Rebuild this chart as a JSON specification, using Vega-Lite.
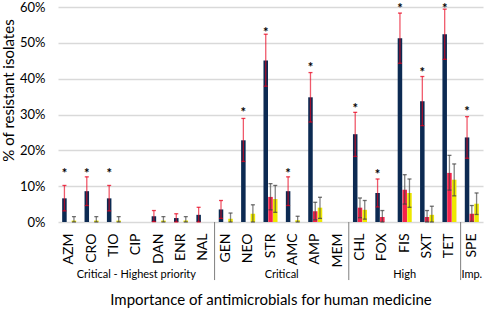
{
  "$schema": "https://vega.github.io/schema/vega-lite/v6.json",
  "width": 425,
  "height": 215,
  "autosize": "none",
  "padding": {"left": 58, "top": 7, "right": 2, "bottom": 88},
  "config": {
    "view": {"stroke": null},
    "font": "Lato",
    "text": {"font": "Lato"},
    "axisY": {
      "labelOverlap": false,
      "labelFontSize": 13,
      "labelColor": "#000000",
      "labelPadding": 13,
      "ticks": false,
      "domain": false,
      "grid": true,
      "gridColor": "#D9D9D9",
      "gridWidth": 1.5,
      "titleFontSize": 15,
      "titleFontWeight": "normal",
      "titleColor": "#000000",
      "titlePadding": 3,
      "titleY": 83
    },
    "axisX": {
      "labelAngle": -90,
      "labelFontSize": 14,
      "labelColor": "#000000",
      "labelPadding": 11,
      "ticks": false,
      "domain": false,
      "titleFontSize": 15,
      "titleFontWeight": "normal",
      "titleColor": "#000000",
      "titlePadding": 25
    }
  },
  "datasets": {
    "bars": [
      {"drug": "AZM", "series": "Series 1", "value": 6.6, "lo": 3.1, "hi": 10.2},
      {"drug": "CRO", "series": "Series 1", "value": 8.6, "lo": 4.6, "hi": 12.6},
      {"drug": "TIO", "series": "Series 1", "value": 6.6, "lo": 3.1, "hi": 10.2},
      {"drug": "DAN", "series": "Series 1", "value": 1.6, "lo": 0.1, "hi": 3.2},
      {"drug": "ENR", "series": "Series 1", "value": 1.1, "lo": 0, "hi": 2.3},
      {"drug": "NAL", "series": "Series 1", "value": 2.0, "lo": 0, "hi": 4.1},
      {"drug": "GEN", "series": "Series 1", "value": 3.5, "lo": 1.0, "hi": 6.0},
      {"drug": "NEO", "series": "Series 1", "value": 22.8, "lo": 16.9, "hi": 28.9},
      {"drug": "STR", "series": "Series 1", "value": 45.1, "lo": 37.9, "hi": 52.4},
      {"drug": "AMC", "series": "Series 1", "value": 8.6, "lo": 4.6, "hi": 12.6},
      {"drug": "AMP", "series": "Series 1", "value": 34.8, "lo": 27.9, "hi": 41.7},
      {"drug": "CHL", "series": "Series 1", "value": 24.5, "lo": 18.3, "hi": 30.6},
      {"drug": "FOX", "series": "Series 1", "value": 8.1, "lo": 4.2, "hi": 12.0},
      {"drug": "FIS", "series": "Series 1", "value": 51.3, "lo": 44.3, "hi": 58.3},
      {"drug": "SXT", "series": "Series 1", "value": 33.7, "lo": 26.9, "hi": 40.6},
      {"drug": "TET", "series": "Series 1", "value": 52.4, "lo": 45.4, "hi": 59.4},
      {"drug": "SPE", "series": "Series 1", "value": 23.6, "lo": 17.8, "hi": 29.4},
      {"drug": "STR", "series": "Series 2", "value": 7.0, "lo": 3.4, "hi": 10.7},
      {"drug": "AMP", "series": "Series 2", "value": 3.0, "lo": 0.6, "hi": 5.5},
      {"drug": "CHL", "series": "Series 2", "value": 4.0, "lo": 1.2, "hi": 6.7},
      {"drug": "FOX", "series": "Series 2", "value": 1.4, "lo": 0, "hi": 3.2},
      {"drug": "FIS", "series": "Series 2", "value": 9.0, "lo": 5.0, "hi": 13.2},
      {"drug": "SXT", "series": "Series 2", "value": 1.4, "lo": 0, "hi": 3.2},
      {"drug": "TET", "series": "Series 2", "value": 13.7, "lo": 8.9, "hi": 18.6},
      {"drug": "SPE", "series": "Series 2", "value": 2.3, "lo": 0.2, "hi": 4.6},
      {"drug": "AZM", "series": "Series 3", "value": 0.4, "lo": 0, "hi": 1.5},
      {"drug": "CRO", "series": "Series 3", "value": 0.4, "lo": 0, "hi": 1.5},
      {"drug": "TIO", "series": "Series 3", "value": 0.4, "lo": 0, "hi": 1.5},
      {"drug": "DAN", "series": "Series 3", "value": 0.4, "lo": 0, "hi": 1.5},
      {"drug": "ENR", "series": "Series 3", "value": 0.4, "lo": 0, "hi": 1.5},
      {"drug": "GEN", "series": "Series 3", "value": 0.9, "lo": 0, "hi": 2.5},
      {"drug": "NEO", "series": "Series 3", "value": 2.3, "lo": 0, "hi": 4.8},
      {"drug": "STR", "series": "Series 3", "value": 6.4, "lo": 2.7, "hi": 10.2},
      {"drug": "AMC", "series": "Series 3", "value": 0.5, "lo": 0, "hi": 1.6},
      {"drug": "AMP", "series": "Series 3", "value": 4.0, "lo": 1.0, "hi": 6.9},
      {"drug": "CHL", "series": "Series 3", "value": 3.4, "lo": 0.8, "hi": 6.0},
      {"drug": "FIS", "series": "Series 3", "value": 8.1, "lo": 4.1, "hi": 12.0},
      {"drug": "SXT", "series": "Series 3", "value": 2.0, "lo": 0, "hi": 4.4},
      {"drug": "TET", "series": "Series 3", "value": 11.8, "lo": 7.3, "hi": 16.2},
      {"drug": "SPE", "series": "Series 3", "value": 5.1, "lo": 2.1, "hi": 8.1}
    ],
    "stars": [
      {"drug": "AZM", "star": 14.3},
      {"drug": "CRO", "star": 14.3},
      {"drug": "TIO", "star": 14.3},
      {"drug": "NEO", "star": 31.2},
      {"drug": "STR", "star": 53.6},
      {"drug": "AMC", "star": 14.3},
      {"drug": "AMP", "star": 43.9},
      {"drug": "CHL", "star": 32.3},
      {"drug": "FOX", "star": 14.0},
      {"drug": "FIS", "star": 60.4},
      {"drug": "SXT", "star": 42.3},
      {"drug": "TET", "star": 60.4},
      {"drug": "SPE", "star": 31.4}
    ]
  },
  "encoding": {
    "x": {
      "field": "drug",
      "type": "nominal",
      "title": "Importance of antimicrobials for human medicine",
      "scale": {
        "domain": ["AZM", "CRO", "TIO", "CIP", "DAN", "ENR", "NAL", "GEN", "NEO", "STR", "AMC", "AMP", "MEM", "CHL", "FOX", "FIS", "SXT", "TET", "SPE"],
        "paddingInner": 0,
        "paddingOuter": 0
      }
    }
  },
  "layer": [
    {
      "data": {"name": "bars"},
      "mark": {"type": "bar"},
      "encoding": {
        "xOffset": {
          "field": "series",
          "type": "nominal",
          "scale": {"domain": ["Series 1", "Series 2", "Series 3"], "paddingInner": 0.05, "paddingOuter": 0.875}
        },
        "y": {
          "field": "value",
          "type": "quantitative",
          "stack": null,
          "title": "% of resistant isolates",
          "scale": {"domain": [0, 60], "nice": false},
          "axis": {"values": [0, 10, 20, 30, 40, 50, 60], "labelExpr": "datum.value + '%'"}
        },
        "color": {
          "field": "series",
          "type": "nominal",
          "scale": {"domain": ["Series 1", "Series 2", "Series 3"], "range": ["#0C2A52", "#F5234B", "#EDE800"]},
          "legend": null
        }
      }
    },
    {
      "data": {"name": "bars"},
      "mark": {"type": "rule", "strokeWidth": 1.3, "opacity": 0.65},
      "encoding": {
        "xOffset": {"field": "series", "type": "nominal"},
        "y": {"field": "lo", "type": "quantitative", "title": "% of resistant isolates", "axis": {"values": [0, 10, 20, 30, 40, 50, 60], "labelExpr": "datum.value + '%'"}},
        "y2": {"field": "hi"},
        "color": {"condition": {"test": "datum.series === 'Series 1'", "value": "#E8001C"}, "value": "#404040"}
      }
    },
    {
      "data": {"name": "bars"},
      "mark": {"type": "tick", "orient": "horizontal", "size": 4, "thickness": 1.3, "opacity": 0.75},
      "encoding": {
        "xOffset": {"field": "series", "type": "nominal"},
        "y": {"field": "hi", "type": "quantitative", "title": "% of resistant isolates", "axis": {"values": [0, 10, 20, 30, 40, 50, 60], "labelExpr": "datum.value + '%'"}},
        "color": {"condition": {"test": "datum.series === 'Series 1'", "value": "#E8001C"}, "value": "#404040"}
      }
    },
    {
      "data": {"name": "bars"},
      "mark": {"type": "tick", "orient": "horizontal", "size": 4, "thickness": 1.3, "opacity": 0.75},
      "encoding": {
        "xOffset": {"field": "series", "type": "nominal"},
        "y": {"field": "lo", "type": "quantitative", "title": "% of resistant isolates", "axis": {"values": [0, 10, 20, 30, 40, 50, 60], "labelExpr": "datum.value + '%'"}},
        "color": {"condition": {"test": "datum.series === 'Series 1'", "value": "#E8001C"}, "value": "#404040"}
      }
    },
    {
      "data": {"name": "stars"},
      "mark": {"type": "text", "text": "*", "fontSize": 13, "fontWeight": "bold", "baseline": "middle", "dy": 3, "color": "#000000"},
      "encoding": {
        "xOffset": {"datum": "Series 1", "type": "nominal"},
        "y": {"field": "star", "type": "quantitative", "title": "% of resistant isolates", "axis": {"values": [0, 10, 20, 30, 40, 50, 60], "labelExpr": "datum.value + '%'"}}
      }
    },
    {
      "data": {"values": [
        {"drug": "CIP", "group": "Critical - Highest priority"},
        {"drug": "FIS", "group": "High"},
        {"drug": "SPE", "group": "Imp."}
      ]},
      "mark": {"type": "text", "fontSize": 11, "baseline": "middle", "dy": 53, "color": "#000000"},
      "encoding": {
        "y": {"datum": 0, "type": "quantitative", "title": "% of resistant isolates", "axis": {"values": [0, 10, 20, 30, 40, 50, 60], "labelExpr": "datum.value + '%'"}},
        "text": {"field": "group"}
      }
    },
    {
      "data": {"values": [
        {"drug": "AMC", "group": "Critical"}
      ]},
      "mark": {"type": "text", "fontSize": 11, "baseline": "middle", "dy": 53, "color": "#000000"},
      "encoding": {
        "x": {"field": "drug", "type": "nominal", "bandPosition": 0, "title": "Importance of antimicrobials for human medicine"},
        "y": {"datum": 0, "type": "quantitative", "title": "% of resistant isolates", "axis": {"values": [0, 10, 20, 30, 40, 50, 60], "labelExpr": "datum.value + '%'"}},
        "text": {"field": "group"}
      }
    },
    {
      "data": {"values": [
        {"drug": "GEN"},
        {"drug": "CHL"},
        {"drug": "SPE"}
      ]},
      "mark": {"type": "rule", "color": "#7F7F7F", "strokeWidth": 1, "clip": false},
      "encoding": {
        "x": {"field": "drug", "type": "nominal", "bandPosition": 0, "title": "Importance of antimicrobials for human medicine"},
        "y": {"datum": 0, "type": "quantitative", "title": "% of resistant isolates", "axis": {"values": [0, 10, 20, 30, 40, 50, 60], "labelExpr": "datum.value + '%'"}},
        "y2": {"datum": -16.2}
      }
    }
  ]
}
